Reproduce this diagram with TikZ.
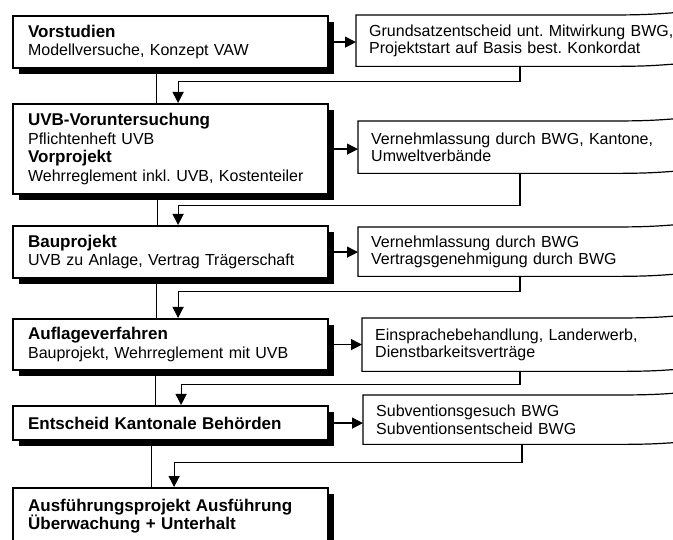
\documentclass[tikz,border=0pt]{standalone}
\usepackage{fontspec}
\setmainfont{Liberation Sans}
\usetikzlibrary{arrows.meta,positioning,shadows}
\newcommand{\headline}[1]{{\fontsize{17}{18.6}\selectfont\bfseries #1}}
\frenchspacing

\begin{document}
\begin{tikzpicture}[x=1pt, y=-1pt,
    stage/.style={
        rectangle,
        draw,
        line width=2.2pt,
        fill=white,
        anchor=north west,
        minimum width=315pt,
        text width=285pt,
        inner xsep=15pt,
        align=left,
        font=\fontsize{16}{18.6}\selectfont,
        drop shadow={shadow xshift=6pt, shadow yshift=-6pt, fill=black, opacity=1}
    },
    remark/.style={
        rectangle,
        anchor=north west,
        text width=310pt,
        inner xsep=13pt,
        align=left,
        font=\fontsize{16}{17.5}\selectfont
    },
    link/.style={line width=1.2pt},
    tip/.style={-{Triangle[length=11pt,width=11pt]}}
]

    \fill[white] (0,0) rectangle (673,540);
    \useasboundingbox (0,0) rectangle (673,540);
    \clip (0,0) rectangle (673,540);



    \node (b1) [stage, minimum height=52pt] at (12,15)
    {
        \headline{Vorstudien}\\
        Modellversuche, Konzept VAW
    };

    \node (b2) [stage, minimum height=90pt] at (12,103)
    {
        \headline{UVB-Voruntersuchung}\\
        Pflichtenheft UVB\\
        \headline{Vorprojekt}\\
        Wehrreglement inkl. UVB, Kostenteiler
    };

    \node (b3) [stage, minimum height=52pt] at (12,225)
    {
        \headline{Bauprojekt}\\
        UVB zu Anlage, Vertrag Trägerschaft
    };

    \node (b4) [stage, minimum height=51pt] at (12,318)
    {
        \headline{Auflageverfahren}\\
        Bauprojekt, Wehrreglement mit UVB
    };

    \node (b5) [stage, minimum height=34pt] at (12,405)
    {
        \headline{Entscheid Kantonale Behörden}
    };

    \node (b6) [stage, minimum height=56pt] at (12,487)
    {
        \headline{Ausführungsprojekt Ausführung}\\
        \headline{Überwachung + Unterhalt}
    };



    \node (r1) [remark, minimum height=51pt] at (356,15)
    {
        Grundsatzentscheid unt. Mitwirkung BWG,\\
        Projektstart auf Basis best. Konkordat
    };

    \node (r2) [remark, minimum height=52pt] at (358,121)
    {
        Vernehmlassung durch BWG, Kantone,\\
        Umweltverbände
    };

    \node (r3) [remark, minimum height=49pt] at (358,227)
    {
        Vernehmlassung durch BWG\\
        Vertragsgenehmigung durch BWG
    };

    \node (r4) [remark, minimum height=53pt] at (362,318)
    {
        Einsprachebehandlung, Landerwerb,\\
        Dienstbarkeitsverträge
    };

    \node (r5) [remark, minimum height=49pt] at (363,395)
    {
        Subventionsgesuch BWG\\
        Subventionsentscheid BWG
    };

    % open right end of the remark boxes
    \foreach \n in {r1,r2,r3,r4,r5}
        \draw[link] ([shift={(340,-4)}]\n.north west) .. controls +(-40,3) and +(45,0) .. ([xshift=250pt]\n.north west)
            -- (\n.north west) -- (\n.south west) -- ([xshift=250pt]\n.south west)
            .. controls +(45,0) and +(-40,3) .. ([shift={(340,-4)}]\n.south west);


    \draw[link, tip] (b1.east) -- (b1.east -| r1.west);
    \draw[link, tip] (b2.east) -- (b2.east -| r2.west);
    \draw[link, tip] (b3.east) -- (b3.east -| r3.west);
    \draw[link, tip] (b4.east) -- (b4.east -| r4.west);
    \draw[link, tip] (b5.east) -- (b5.east -| r5.west);

    \draw[link] ([xshift=-14.5pt]b1.south) -- ([xshift=-14.5pt]b2.north);
    \draw[link] ([xshift=-13.5pt]b2.south) -- ([xshift=-13.5pt]b3.north);
    \draw[link] ([xshift=-14.5pt]b3.south) -- ([xshift=-14.5pt]b4.north);
    \draw[link] ([xshift=-15.5pt]b4.south) -- ([xshift=-15.5pt]b5.north);
    \draw[link] ([xshift=-19.5pt]b5.south) -- ([xshift=-19.5pt]b6.north);

    \draw[link, tip] ([xshift=164pt]r1.south west) -- ++(0,15) -| ([xshift=7.5pt]b2.north);
    \draw[link, tip] ([xshift=162pt]r2.south west) -- ++(0,32) -| ([xshift=7.5pt]b3.north);
    \draw[link, tip] ([xshift=162pt]r3.south west) -- ++(0,15) -| ([xshift=7.5pt]b4.north);
    \draw[link, tip] ([xshift=158pt]r4.south west) -- ++(0,13) -| ([xshift=10.5pt]b5.north);
    \draw[link, tip] ([xshift=159pt]r5.south west) -- ++(0,18) -| ([xshift=3.5pt]b6.north);


\end{tikzpicture}
\end{document}
